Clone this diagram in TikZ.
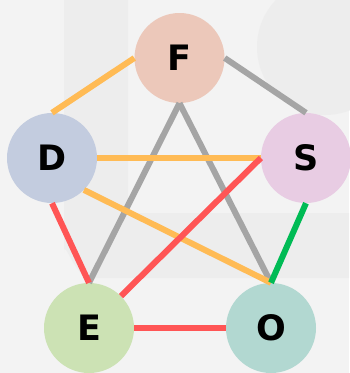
\documentclass[tikz,border=0pt]{standalone}
\usepackage{fontspec}
\setmainfont{DejaVu Sans}
\definecolor{bg}{HTML}{F3F3F3}
\definecolor{wm}{HTML}{EDEDED}
\definecolor{cF}{HTML}{ECC8BA}
\definecolor{cD}{HTML}{C3CCDF}
\definecolor{cS}{HTML}{E8CCE3}
\definecolor{cE}{HTML}{CCE2B4}
\definecolor{cO}{HTML}{B2D8D1}
\definecolor{eorange}{HTML}{FFBB55}
\definecolor{egray}{HTML}{A5A5A5}
\definecolor{ered}{HTML}{FF5555}
\definecolor{egreen}{HTML}{00BB55}
\tikzset{
  person/.style={circle, minimum size=90pt, inner sep=0pt, font=\fontsize{35}{40}\selectfont\bfseries, text=black},
  link/.style={line width=6pt},
}
\begin{document}
\begin{tikzpicture}[x=1pt,y=-1pt]
\fill[bg] (0,0) rectangle (349,373);
\useasboundingbox (0,0) rectangle (349,373);
% watermark
\fill[wm] (64,0) -- (128,0) -- (128,213) -- (349,213) -- (349,278) -- (90,278) to[out=180,in=90] (64,252) -- cycle;
\fill[wm] (325,47) circle[radius=68];
% nodes
\node[person, fill=cF] (F) at (179.5,58) {F};
\node[person, fill=cD] (D) at (52,158) {D};
\node[person, fill=cS] (S) at (306,158) {S};
\node[person, fill=cE] (E) at (89,328) {E};
\node[person, fill=cO] (O) at (271,328) {O};
% edges
\draw[link, eorange] (F.west) -- (D.north);
\draw[link, egray] (F.east) -- (S.north);
\draw[link, egray] (F.south) -- (E.north);
\draw[link, egray] (F.south) -- (O.north);
\draw[link, eorange] (D.east) -- (S.west);
\draw[link, eorange] (D.south east) -- (O.north);
\draw[link, ered] (D.south) -- (E.north);
\draw[link, ered] (S.west) -- (E.north east);
\draw[link, egreen] (S.south) -- (O.north);
\draw[link, ered] (E.east) -- (O.west);
\end{tikzpicture}
\end{document}
